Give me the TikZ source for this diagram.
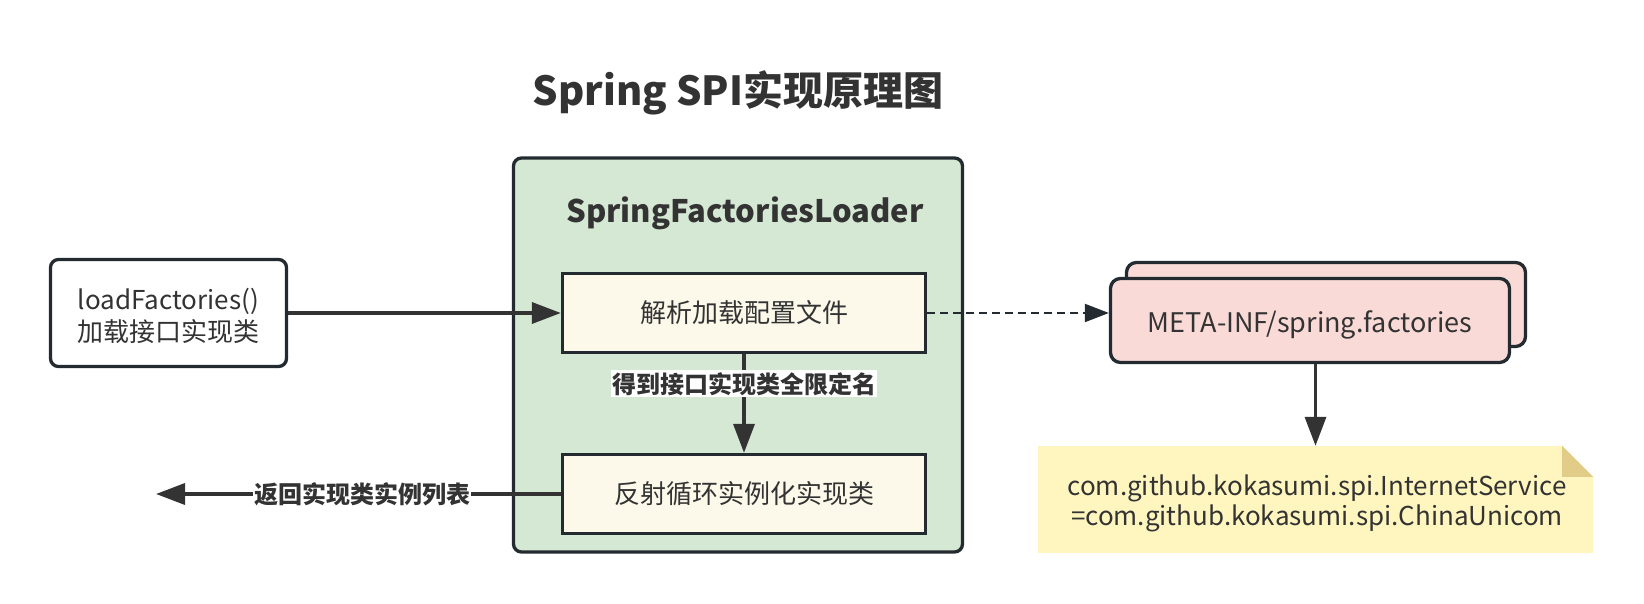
\documentclass[tikz,border=0pt]{standalone}
\usepackage{fontspec}
\setmainfont{Noto Sans CJK SC}
\usetikzlibrary{arrows.meta,calc}

\definecolor{linedark}{RGB}{35,43,49}
\definecolor{textdark}{RGB}{51,51,51}
\definecolor{loaderfill}{RGB}{213,232,212}
\definecolor{creamfill}{RGB}{252,249,234}
\definecolor{pinkfill}{RGB}{249,218,215}
\definecolor{notefill}{RGB}{255,245,190}
\definecolor{foldfill}{RGB}{225,205,136}

\tikzset{
	stepbox/.style={draw=linedark, line width=3.3pt, fill=creamfill, minimum width=363pt, minimum height=79pt, inner sep=0pt, text=textdark, font=\fontsize{26}{32}\selectfont},
	roundbox/.style={draw=linedark, line width=3.3pt, rounded corners=10pt, inner sep=0pt, text=textdark, font=\fontsize{26}{32}\selectfont, align=center},
	plaintext/.style={inner sep=0pt, text=textdark, align=center},
	flow/.style={draw=textdark, line width=3.5pt, -{Triangle[length=29pt,width=21pt]}},
	dashflow/.style={draw=linedark, line width=2pt, dash pattern=on 8pt off 5pt, -{Triangle[length=24pt,width=18pt]}},
	lbl/.style={fill=white, inner xsep=1pt, inner ysep=2pt, text=textdark, font=\bfseries\fontsize{24}{28}\selectfont}
}

\begin{document}
\begin{tikzpicture}[x=1pt, y=-1pt]
	%%%%% START %%%%%
	\fill[white] (0,0) rectangle (1644,604);
	\useasboundingbox (0,0) rectangle (1644,604);
	
	\node[text=textdark, font=\bfseries\fontsize{40}{44}\selectfont] (title) at (738,93) {Spring SPI实现原理图};
	
	% loader container
	\node[draw=linedark, line width=3.3pt, fill=loaderfill, rounded corners=8pt, minimum width=449pt, minimum height=394pt] (loader) at (738,355) {};
	\node[text=textdark, font=\bfseries\fontsize{31}{34}\selectfont] (loadertitle) at (745,213) {SpringFactoriesLoader};
	
	\node[stepbox] (parse) at (744,313) {解析加载配置文件};
	\node[stepbox] (reflect) at (744,494) {反射循环实例化实现类};
	
	\node[roundbox, rounded corners=8pt, fill=white, minimum width=236pt, minimum height=107pt] (load) at (168.5,313) {};
	\node[plaintext, font=\fontsize{26}{32}\selectfont] (loadtext) at ($(load.center)+(0,2.6)$) {loadFactories()\\加载接口实现类};
	
	% spring.factories files
	\node[roundbox, fill=pinkfill, minimum width=399pt, minimum height=84pt] (metaback) at (1326,304.5) {};
	\node[roundbox, fill=pinkfill, minimum width=399pt, minimum height=84pt, text height=26pt, text depth=2pt, font=\fontsize{27}{32}\selectfont] (meta) at (1310,320.5) {META-INF/spring.factories};
	
	% note
	\node[fill=notefill, minimum width=555pt, minimum height=107pt, inner sep=0pt] (note) at (1315.5,499.5) {};
	\fill[white] ($(note.north east)+(-31,0)$) -- (note.north east) -- ($(note.north east)+(0,31)$) -- cycle;
	\fill[foldfill] ($(note.north east)+(-31,0)$) -- ($(note.north east)+(-31,31)$) -- ($(note.north east)+(0,31)$) -- cycle;
	\node[plaintext, font=\fontsize{26}{30}\selectfont] (notetext) at ($(note.center)+(1.5,4.2)$) {com.github.kokasumi.spi.InternetService\\=com.github.kokasumi.spi.ChinaUnicom};
	
	% connectors
	\coordinate (retend) at (156,494);
	\draw[flow] (load.east) -- (load.east -| parse.west);
	\draw[flow] (parse.south) -- (reflect.north) node[pos=0.3, lbl] {得到接口实现类全限定名};
	\draw[flow] (reflect.west) -- (retend) node[pos=0.49, lbl] {返回实现类实例列表};
	\draw[dashflow] (parse.east) -- (parse.east -| meta.west);
	\draw[flow] (note.north |- meta.south) -- (note.north);
	%%%%% END %%%%%
\end{tikzpicture}
\end{document}
